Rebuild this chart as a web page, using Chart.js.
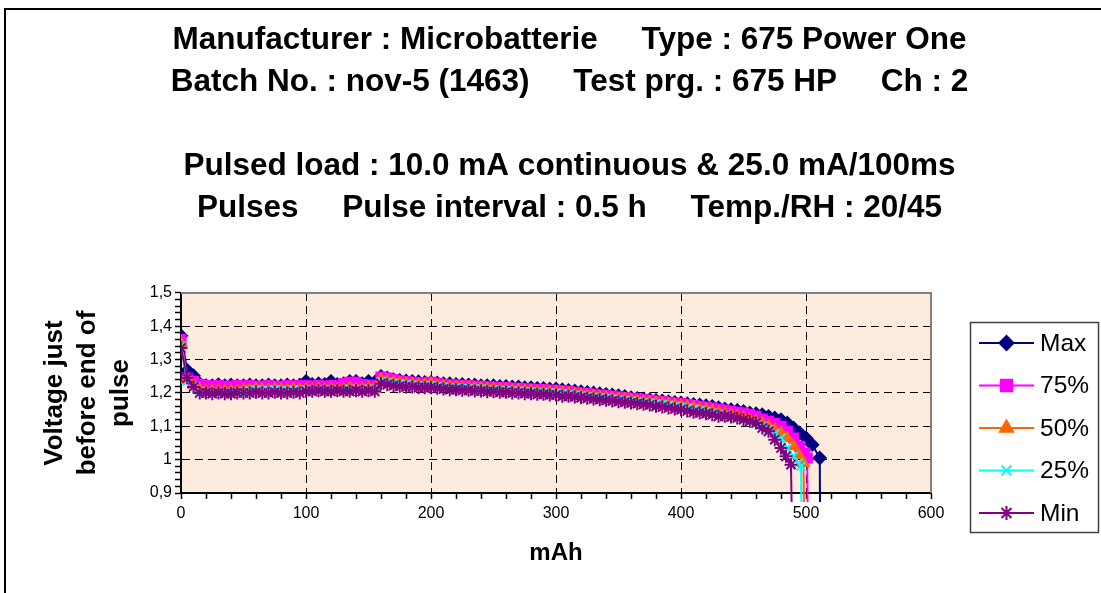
<!DOCTYPE html>
<html>
<head>
<meta charset="utf-8">
<script src="https://cdn.jsdelivr.net/npm/chart.js@4/dist/chart.umd.min.js"></script>
<style>
  html, body { margin: 0; padding: 0; background: #fff; overflow: hidden; }
  #wrap { width: 1101px; height: 593px; position: relative; }
</style>
</head>
<body>
<div id="wrap"><canvas id="c" width="1101" height="593"></canvas></div>
<script>
// ---- Data ----
const titleLines = [
  'Manufacturer : Microbatterie     Type : 675 Power One',
  'Batch No. : nov-5 (1463)     Test prg. : 675 HP     Ch : 2',
  '',
  'Pulsed load : 10.0 mA continuous & 25.0 mA/100ms',
  'Pulses     Pulse interval : 0.5 h     Temp./RH : 20/45'
];
const yTitle = ['Voltage just', 'before end of', 'pulse'];
const xTitle = 'mAh';
const seriesNames = ['Max', '75%', '50%', '25%', 'Min'];

const mAh = [0,5,10,15,20,25,30,35,40,45,50,55,60,65,70,75,80,85,90,95,
  100,105,110,115,120,125,130,135,140,145,150,155,160,165,170,175,180,185,190,195,
  200,205,210,215,220,225,230,235,240,245,250,255,260,265,270,275,280,285,290,295,
  300,305,310,315,320,325,330,335,340,345,350,355,360,365,370,375,380,385,390,395,
  400,405,410,415,420,425,430,435,440,445,450,455,460,465,470,475,480];

const maxV = [1.372,1.268,1.252,1.228,1.222,1.222,1.225,1.222,1.224,1.222,
  1.222,1.224,1.222,1.222,1.224,1.222,1.222,1.224,1.222,1.224,
  1.235,1.226,1.228,1.226,1.235,1.226,1.228,1.235,1.235,1.228,
  1.235,1.232,1.25,1.245,1.24,1.238,1.236,1.235,1.234,1.232,
  1.232,1.23,1.228,1.228,1.226,1.226,1.224,1.224,1.222,1.222,
  1.222,1.22,1.22,1.218,1.218,1.216,1.216,1.214,1.214,1.212,
  1.212,1.21,1.208,1.206,1.204,1.202,1.2,1.198,1.196,1.194,
  1.192,1.19,1.186,1.184,1.182,1.18,1.178,1.176,1.174,1.172,
  1.17,1.168,1.166,1.164,1.162,1.16,1.156,1.152,1.15,1.148,
  1.145,1.14,1.138,1.135,1.13,1.125,1.12];
const p75V = [1.36,1.245,1.235,1.225,1.222,1.22,1.222,1.22,1.22,1.222,
  1.22,1.222,1.22,1.22,1.222,1.22,1.22,1.222,1.22,1.222,
  1.222,1.22,1.222,1.22,1.222,1.22,1.228,1.232,1.232,1.225,
  1.224,1.222,1.248,1.245,1.24,1.236,1.234,1.232,1.23,1.23,
  1.232,1.228,1.226,1.224,1.224,1.222,1.222,1.22,1.22,1.218,
  1.218,1.216,1.216,1.214,1.214,1.212,1.212,1.21,1.21,1.208,
  1.208,1.206,1.205,1.202,1.2,1.198,1.196,1.194,1.192,1.19,
  1.188,1.186,1.184,1.182,1.18,1.178,1.176,1.174,1.172,1.17,
  1.168,1.165,1.162,1.16,1.158,1.155,1.152,1.148,1.145,1.142,
  1.14,1.135,1.13,1.122,1.115,1.108,1.1];
const p50V = [1.35,1.24,1.225,1.21,1.205,1.205,1.207,1.205,1.205,1.207,
  1.21,1.21,1.212,1.21,1.21,1.212,1.21,1.21,1.212,1.21,
  1.212,1.21,1.212,1.21,1.212,1.21,1.212,1.215,1.212,1.212,
  1.215,1.212,1.24,1.235,1.232,1.23,1.228,1.226,1.225,1.225,
  1.228,1.222,1.22,1.218,1.218,1.216,1.216,1.214,1.214,1.212,
  1.212,1.21,1.21,1.208,1.208,1.206,1.206,1.204,1.204,1.202,
  1.202,1.2,1.198,1.196,1.194,1.192,1.19,1.188,1.186,1.184,
  1.182,1.18,1.178,1.176,1.174,1.172,1.17,1.168,1.166,1.164,
  1.162,1.158,1.155,1.152,1.15,1.146,1.142,1.138,1.135,1.13,
  1.126,1.12,1.115,1.108,1.1,1.09,1.08];
const p25V = [1.34,1.235,1.22,1.205,1.2,1.2,1.202,1.2,1.2,1.202,
  1.205,1.208,1.21,1.208,1.208,1.21,1.208,1.208,1.21,1.208,
  1.21,1.208,1.21,1.208,1.21,1.208,1.21,1.212,1.21,1.21,
  1.212,1.21,1.235,1.232,1.23,1.228,1.226,1.224,1.222,1.222,
  1.222,1.22,1.218,1.216,1.216,1.214,1.214,1.212,1.212,1.21,
  1.21,1.208,1.208,1.206,1.206,1.204,1.204,1.202,1.202,1.2,
  1.2,1.198,1.196,1.194,1.192,1.19,1.188,1.186,1.184,1.182,
  1.18,1.178,1.176,1.174,1.172,1.17,1.168,1.166,1.164,1.16,
  1.158,1.155,1.152,1.148,1.145,1.14,1.136,1.132,1.128,1.124,
  1.12,1.114,1.108,1.1,1.09,1.078,1.065];
const minV = [1.335,1.245,1.218,1.2,1.2,1.198,1.2,1.198,1.198,1.2,
  1.2,1.2,1.202,1.2,1.2,1.202,1.2,1.2,1.202,1.2,
  1.205,1.205,1.207,1.205,1.205,1.207,1.205,1.205,1.207,1.205,
  1.207,1.205,1.228,1.225,1.222,1.22,1.218,1.218,1.216,1.216,
  1.216,1.214,1.212,1.21,1.21,1.208,1.208,1.206,1.206,1.204,
  1.204,1.202,1.202,1.2,1.2,1.198,1.198,1.196,1.196,1.194,
  1.194,1.19,1.19,1.188,1.186,1.184,1.182,1.18,1.178,1.176,
  1.174,1.172,1.17,1.168,1.166,1.164,1.16,1.158,1.155,1.152,
  1.15,1.146,1.142,1.14,1.138,1.135,1.13,1.13,1.128,1.125,
  1.12,1.115,1.11,1.095,1.085,1.06,1.035];

// end-of-discharge tails (mAh, V)
const maxTailMah = [485,490,495,500,505,511,511.6];
const maxTailV   = [1.11,1.095,1.08,1.065,1.045,1.005,0.6];
const p75TailMah = [485,490,495,499,501,501.8];
const p75TailV   = [1.085,1.065,1.04,1.02,1.005,0.6];
const p50TailMah = [485,490,494,498,499.2];
const p50TailV   = [1.065,1.04,1.015,0.99,0.6];
const p25TailMah = [485,490,494,496,497];
const p25TailV   = [1.035,1.01,0.99,0.98,0.6];
const minTailMah = [484,488,489.6];
const minTailV   = [1.01,0.985,0.6];

const yTickLabels = ['0,9','1','1,1','1,2','1,3','1,4','1,5'];
const xTickLabels = ['0','100','200','300','400','500','600'];

// ---- build ----
function pts(xs, ys, tx, ty) {
  const out = xs.map((x, i) => ({x: x, y: ys[i]}));
  tx.forEach((x, i) => out.push({x: x, y: ty[i]}));
  return out;
}
const styles = [
  {color: '#000080', style: 'rectRot', r: 6, lr: 7},
  {color: '#FF00FF', style: 'rect', r: 6.5, lr: 8},
  {color: '#FF6600', style: 'triangle', r: 6, lr: 7.5},
  {color: '#00FFFF', style: 'crossRot', r: 6, lr: 7},
  {color: '#800080', style: 'star', r: 6.5, lr: 7}
];
const dataArr = [
  pts(mAh, maxV, maxTailMah, maxTailV),
  pts(mAh, p75V, p75TailMah, p75TailV),
  pts(mAh, p50V, p50TailMah, p50TailV),
  pts(mAh, p25V, p25TailMah, p25TailV),
  pts(mAh, minV, minTailMah, minTailV)
];
const datasets = seriesNames.map((n, i) => ({
  label: n,
  data: dataArr[i],
  borderColor: styles[i].color,
  backgroundColor: styles[i].color,
  borderWidth: 2,
  pointStyle: styles[i].style,
  pointRadius: (c) => (c.raw && c.raw.y < 0.9 ? 0 : styles[i].r),
  pointBorderWidth: 2,
  pointBorderColor: styles[i].color,
  pointBackgroundColor: styles[i].color,
  tension: 0,
  order: 5 - i,
  clip: {left: 0, top: 0, right: 0, bottom: 9}
}));

const isMult = (v, m) => Math.abs(v / m - Math.round(v / m)) < 1e-6;
const FONT = '"Liberation Sans", Arial, sans-serif';

const frameAndBg = {
  id: 'frameAndBg',
  beforeDraw(chart) {
    const {ctx, chartArea: a} = chart;
    ctx.save();
    ctx.fillStyle = '#fff';
    ctx.fillRect(0, 0, chart.width, chart.height);
    ctx.strokeStyle = '#000';
    ctx.lineWidth = 2;
    ctx.strokeRect(5, 9, 1300, 800);
    ctx.fillStyle = '#FDECDD';
    ctx.fillRect(a.left, a.top, a.right - a.left, a.bottom - a.top);
    ctx.restore();
  },
  afterDraw(chart) {
    const {ctx, chartArea: a} = chart;
    ctx.save();
    ctx.strokeStyle = '#808080';
    ctx.lineWidth = 2;
    ctx.beginPath();
    ctx.moveTo(a.left, a.top);
    ctx.lineTo(a.right, a.top);
    ctx.lineTo(a.right, a.bottom);
    ctx.stroke();
    // legend
    const lx = 970, ly = 322, lw = 128, lh = 210;
    ctx.fillStyle = '#fff';
    ctx.fillRect(lx, ly, lw, lh);
    ctx.strokeStyle = '#404040';
    ctx.lineWidth = 1.5;
    ctx.strokeRect(lx + 0.5, ly + 0.5, lw, lh);
    const ys = [343, 385.5, 428, 470.5, 513];
    ctx.font = '24.5px ' + FONT;
    ctx.textBaseline = 'middle';
    ctx.textAlign = 'left';
    seriesNames.forEach((n, i) => {
      const y = ys[i];
      ctx.strokeStyle = styles[i].color;
      ctx.fillStyle = styles[i].color;
      ctx.lineWidth = 2;
      ctx.beginPath();
      ctx.moveTo(979, y);
      ctx.lineTo(1034, y);
      ctx.stroke();
      Chart.helpers.drawPoint(ctx, {
        pointStyle: styles[i].style, radius: styles[i].lr, borderWidth: 2, rotation: 0
      }, 1006.5, y);
      ctx.fillStyle = '#000';
      ctx.fillText(n, 1040, y + 1);
    });
    ctx.restore();
  }
};

new Chart(document.getElementById('c'), {
  type: 'line',
  data: {datasets: datasets},
  plugins: [frameAndBg],
  options: {
    responsive: false,
    animation: false,
    events: [],
    layout: {padding: {left: 38, right: 0, top: 0, bottom: 0}},
    plugins: {
      legend: {display: false},
      tooltip: {enabled: false},
      title: {
        display: true,
        text: titleLines,
        color: '#000',
        font: {family: FONT, size: 31.5, weight: 'bold', lineHeight: 1.3333},
        padding: {top: 19, bottom: 64}
      }
    },
    scales: {
      x: {
        type: 'linear',
        min: 0, max: 600,
        ticks: {
          stepSize: 20,
          autoSkip: false,
          maxRotation: 0,
          color: '#000',
          padding: 5,
          font: {family: FONT, size: 16},
          callback: (v) => isMult(v, 100) ? xTickLabels[Math.round(v / 100)] : ''
        },
        grid: {
          color: (c) => (c.tick && isMult(c.tick.value, 100) && c.tick.value > 0 && c.tick.value < 600) ? '#000' : 'transparent',
          lineWidth: 1,
          tickColor: '#000',
          tickLength: 6,
          tickWidth: 1.5
        },
        border: {display: true, color: '#000', width: 2, dash: [8, 5]},
        title: {
          display: true, text: xTitle, color: '#000',
          font: {family: FONT, size: 24, weight: 'bold', lineHeight: 1.2},
          padding: {top: 0, bottom: 25.6}
        },
        afterFit: (s) => { s.height = 100; }
      },
      y: {
        type: 'linear',
        position: 'left',
        min: 0.9, max: 1.5,
        ticks: {
          stepSize: 0.02,
          autoSkip: false,
          color: '#000',
          padding: 3,
          font: {family: FONT, size: 16},
          callback: (v) => isMult(v, 0.1) ? yTickLabels[Math.round((v - 0.9) * 10)] : ''
        },
        grid: {
          color: (c) => (c.tick && isMult(c.tick.value, 0.1) && c.tick.value > 0.95 && c.tick.value < 1.45) ? '#000' : 'transparent',
          lineWidth: 1,
          tickColor: '#000',
          tickLength: 6,
          tickWidth: 1.5
        },
        border: {display: true, color: '#000', width: 2, dash: [8, 5]},
        title: {
          display: true, text: yTitle, color: '#000',
          font: {family: FONT, size: 26, weight: 'bold', lineHeight: 1.27},
          padding: {top: 0, bottom: 0}
        },
        afterFit: (s) => { s.width = 143; }
      },
      yR: {
        type: 'linear',
        position: 'right',
        display: true,
        ticks: {display: false},
        grid: {display: false, drawTicks: false},
        border: {display: false},
        afterFit: (s) => { s.width = 170; }
      }
    }
  }
});
</script>
</body>
</html>
